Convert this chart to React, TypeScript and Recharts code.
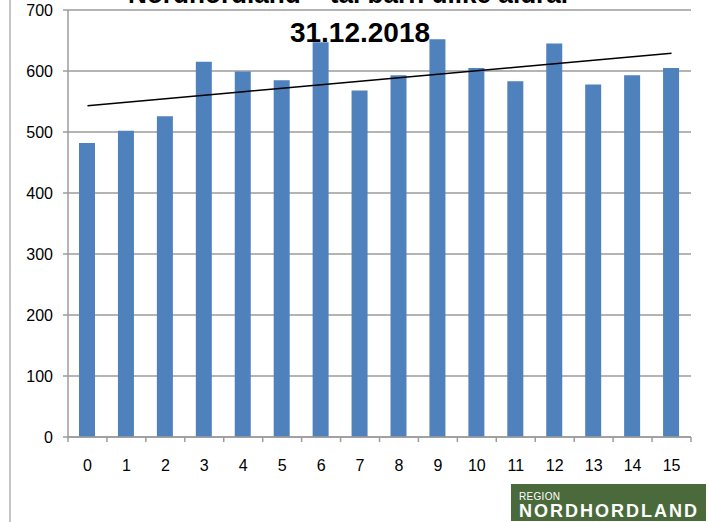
import { Bar, CartesianGrid, ComposedChart, Line, XAxis, YAxis } from 'recharts';

const ages = ['0', '1', '2', '3', '4', '5', '6', '7', '8', '9', '10', '11', '12', '13', '14', '15'];
const children = [482, 502, 526, 615, 599, 585, 647, 568, 593, 652, 605, 583, 645, 578, 593, 605];
const yTicks = [0, 100, 200, 300, 400, 500, 600, 700];

const titleTop = 'Nordhordland – tal barn ulike aldrar';
const titleDate = '31.12.2018';

// least squares trendline, same as the Excel linear trend
const n = children.length;
const meanX = (n - 1) / 2;
const meanY = children.reduce((a, b) => a + b, 0) / n;
const slope =
  children.reduce((s, v, i) => s + (i - meanX) * (v - meanY), 0) /
  children.reduce((s, _v, i) => s + (i - meanX) ** 2, 0);

const data = ages.map((age, i) => ({
  age,
  value: children[i],
  trend: meanY + slope * (i - meanX),
}));

const W = 709;
const H = 522;
const margin = { top: 10, right: 18, left: 8, bottom: 55 };
const yAxisWidth = 60;
const band = (W - margin.left - margin.right - yAxisWidth) / ages.length;
const grey = '#9b9b9b';
const font = "'Liberation Sans', Arial, sans-serif";

function AgeTick(props: any) {
  const { x, y, payload, index } = props;
  const last = index === ages.length - 1;
  return (
    <g>
      <line x1={x - band / 2} x2={x - band / 2} y1={y} y2={y + 5} stroke={grey} strokeWidth={1.5} />
      {last && <line x1={x + band / 2} x2={x + band / 2} y1={y} y2={y + 5} stroke={grey} strokeWidth={1.5} />}
      <text x={x} y={y + 34} textAnchor="middle" fontSize={16} fontFamily={font} fill="#000">
        {payload.value}
      </text>
    </g>
  );
}

export default function App() {
  return (
    <div style={{ position: 'absolute', left: 0, top: 0, width: W, height: H, background: '#fff' }}>
      <ComposedChart width={W} height={H} data={data} margin={margin}>
        <CartesianGrid vertical={false} stroke={grey} strokeWidth={1.5} />
        <XAxis
          dataKey="age"
          height={30}
          axisLine={{ stroke: grey, strokeWidth: 1.5 }}
          tickLine={false}
          tickSize={0}
          tickMargin={0}
          interval={0}
          tick={<AgeTick />}
        />
        <YAxis
          width={yAxisWidth}
          domain={[0, 700]}
          ticks={yTicks}
          axisLine={{ stroke: grey, strokeWidth: 1.5 }}
          tickLine={{ stroke: grey, strokeWidth: 1.5 }}
          tickSize={5}
          tickMargin={10}
          tick={{ fill: '#000', fontSize: 16, fontFamily: font }}
        />
        <Bar dataKey="value" fill="#4f81bd" barSize={16} isAnimationActive={false} />
        <Line
          dataKey="trend"
          stroke="#000"
          strokeWidth={1.5}
          dot={false}
          activeDot={false}
          isAnimationActive={false}
        />
      </ComposedChart>
      <svg width={W} height={H} style={{ position: 'absolute', left: 0, top: 0, pointerEvents: 'none' }}>
        <line x1={10} x2={10} y1={0} y2={H} stroke="#8a8a8a" strokeWidth={1} />
        <text x={128} y={3} fontSize={28} fontWeight="bold" fontFamily={font} fill="#000" textLength={443} lengthAdjust="spacingAndGlyphs">
          {titleTop}
        </text>
        <text x={360} y={42} textAnchor="middle" fontSize={28} fontWeight="bold" fontFamily={font} fill="#000">
          {titleDate}
        </text>
        <rect x={511} y={484} width={195} height={37} fill="#4a6a3b" />
        <text x={519} y={500} fontSize={10} fontFamily={font} fill="#fff" letterSpacing={0.3}>
          REGION
        </text>
        <text x={519} y={517} fontSize={18} fontWeight="bold" fontFamily={font} fill="#fff" letterSpacing={2}>
          NORDHORDLAND
        </text>
      </svg>
    </div>
  );
}
